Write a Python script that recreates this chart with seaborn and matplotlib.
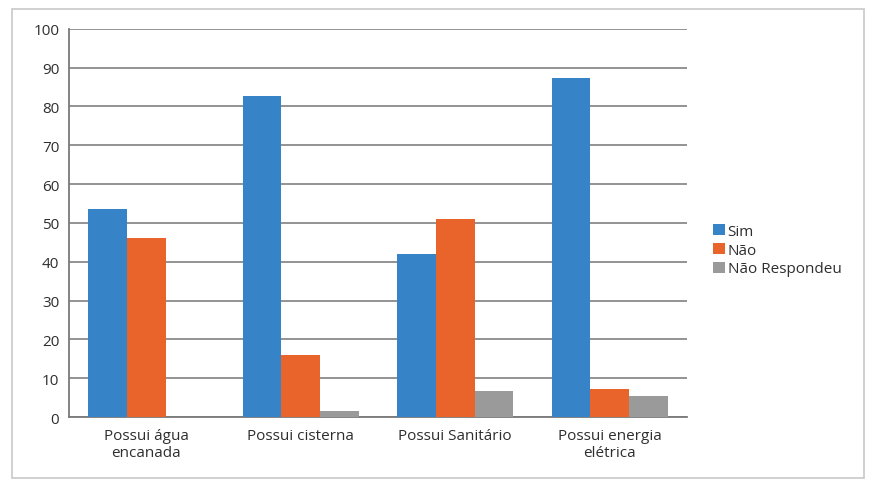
import numpy as np
import pandas as pd
import seaborn as sns
from matplotlib import pyplot as plt
from matplotlib.patches import Rectangle

# %%
# dados
categorias = ['Possui água\nencanada', 'Possui cisterna', 'Possui Sanitário', 'Possui energia\nelétrica']
sim = [53.7, 82.7, 42.0, 87.3]
nao = [46.2, 16.0, 51.1, 7.2]
nao_resp = [0.0, 1.5, 6.8, 5.5]
respostas = ['Sim', 'Não', 'Não Respondeu']
cores = ['#3783c8', '#e8642a', '#9a9a9a']

# %%
df = pd.DataFrame({
    'categoria': categorias * 3,
    'resposta': np.repeat(respostas, len(categorias)),
    'valor': sim + nao + nao_resp,
})

sns.set_style('white')
plt.rcParams['font.family'] = ['Open Sans', 'DejaVu Sans']

fig = plt.figure(figsize=(8.73, 4.89), dpi=100)
ax = fig.add_axes([0.079, 0.145, 0.708, 0.794])

sns.barplot(data=df, x='categoria', y='valor', hue='resposta', palette=cores,
            width=0.75, saturation=1, linewidth=0, ax=ax, zorder=3)

ax.set_ylim(0, 100)
ax.set_xlim(-0.5, 3.5)
ax.set_yticks(range(0, 101, 10))
ax.yaxis.grid(True, color='#8a8a8a', linewidth=1.3, zorder=0)
ax.set_axisbelow(True)
ax.set_xlabel('')
ax.set_ylabel('')

for s in ['top', 'right']:
    ax.spines[s].set_visible(False)
for s in ['left', 'bottom']:
    ax.spines[s].set_color('#7a7a7a')
    ax.spines[s].set_linewidth(1.3)

# marcas de divisao entre categorias no eixo x
ax.set_xticks(np.arange(-0.5, 4, 1), minor=True)
ax.tick_params(axis='x', which='minor', length=6, width=1.2, color='#7a7a7a', direction='out')
ax.tick_params(axis='x', which='major', length=0, labelsize=11, labelcolor='#2e2e2e', pad=8)
ax.tick_params(axis='y', length=5, width=1.2, color='#7a7a7a', direction='out',
               labelsize=11, labelcolor='#2e2e2e', pad=2)

leg = ax.legend(loc='center left', bbox_to_anchor=(1.02, 0.43), frameon=False,
                fontsize=11, handlelength=0.75, handleheight=0.75, handletextpad=0.2,
                labelspacing=0.25)
for t in leg.get_texts():
    t.set_color('#2e2e2e')

# moldura do grafico
fig.patches.append(Rectangle((0.014, 0.02), 0.976, 0.96, transform=fig.transFigure,
                             fill=False, edgecolor='#c8c8c8', linewidth=1.2))

fig.savefig('out.png', dpi=100)
